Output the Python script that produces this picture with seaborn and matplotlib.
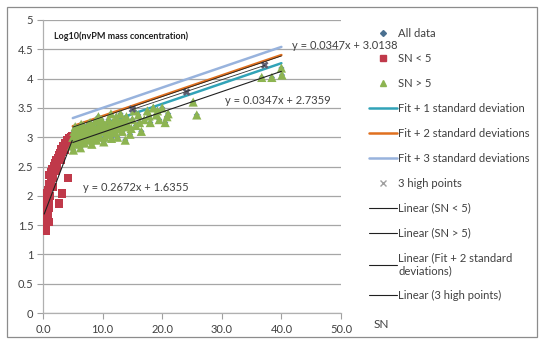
import numpy as np
import pandas as pd
import matplotlib
matplotlib.use("Agg")
import matplotlib.pyplot as plt
import seaborn as sns
from matplotlib.lines import Line2D
from matplotlib.patches import Rectangle

# ---------------- data ----------------
red_x = [0.2, 0.3, 0.3, 0.4, 0.4, 0.5, 0.5, 0.6, 0.6, 0.7, 0.8, 0.9, 1.0, 1.1, 1.2,
         1.4, 1.5, 1.7, 1.9, 2.0, 2.2, 2.4, 2.5, 2.7, 2.9, 3.0, 3.2, 3.4, 3.6, 3.8,
         4.0, 4.2, 4.4, 4.6, 4.8, 4.9, 2.7, 3.2, 4.2, 1.6, 0.9, 0.4, 0.6, 0.8, 1.0,
         1.3, 2.1, 3.0, 3.7, 4.5]
red_y = [1.45, 1.40, 1.60, 1.75, 1.90, 1.50, 2.05, 1.65, 1.85, 2.00, 2.10, 1.80, 2.20,
         2.35, 2.00, 2.40, 2.45, 2.30, 2.50, 2.55, 2.60, 2.50, 2.65, 2.70, 2.72, 2.80,
         2.75, 2.85, 2.85, 2.90, 2.95, 2.90, 2.98, 2.95, 3.00, 3.02, 1.87, 2.04, 2.30,
         2.15, 1.55, 1.40, 1.95, 1.70, 1.92, 2.25, 2.42, 2.62, 2.78, 2.88]

green_x = [4.8, 5.0, 5.1, 5.2, 5.3, 5.5, 5.6, 5.8, 6.0, 6.1, 6.3, 6.5, 6.6, 6.8, 7.0,
           7.1, 7.3, 7.5, 7.7, 7.9, 8.0, 8.2, 8.4, 8.6, 8.8, 9.0, 9.2, 9.4, 9.6, 9.8,
           10.0, 10.2, 10.5, 10.7, 11.0, 11.2, 11.5, 11.7, 12.0, 12.3, 12.5, 12.8, 13.0,
           13.3, 13.5, 13.8, 14.0, 14.3, 14.6, 15.0, 15.3, 15.6, 16.0, 16.5, 17.0, 17.5,
           18.0, 18.5, 19.0, 19.5, 20.0, 20.5, 21.0, 25.2, 25.8, 36.7, 38.4, 40.1, 40.0,
           5.4, 5.9, 6.4, 6.9, 7.4, 7.8, 8.3, 8.7, 9.1, 9.5, 10.1, 10.6, 11.1, 11.6,
           12.1, 12.6, 13.1, 13.6, 14.1, 14.8, 5.7, 6.7, 7.6, 8.5, 9.3, 10.4, 11.4,
           12.4, 16.2, 17.8, 19.2, 20.8]
green_y = [2.85, 3.00, 2.78, 3.10, 2.92, 3.05, 2.88, 3.15, 2.95, 3.08, 2.82, 3.12, 3.00,
           3.20, 2.90, 3.05, 3.15, 2.95, 3.10, 3.25, 3.00, 2.88, 3.18, 3.05, 3.28, 2.95,
           3.12, 3.22, 3.00, 3.30, 3.10, 2.92, 3.20, 3.05, 3.30, 3.15, 2.98, 3.25, 3.10,
           3.35, 3.00, 3.20, 3.40, 3.10, 3.28, 2.95, 3.35, 3.18, 3.05, 3.30, 3.45, 3.20,
           3.38, 3.10, 3.30, 3.45, 3.25, 3.50, 3.38, 3.30, 3.50, 3.25, 3.40, 3.60, 3.38,
           4.02, 4.02, 4.06, 4.18,
           3.18, 3.02, 3.22, 3.10, 3.02, 2.98, 3.12, 3.15, 3.05, 3.18, 3.24, 3.12, 3.20,
           3.08, 3.22, 3.14, 3.26, 3.18, 3.24, 3.15, 2.95, 2.92, 3.22, 2.96, 3.35, 3.00,
           3.40, 3.28, 3.25, 3.36, 3.45, 3.35]

high_x = [15.0, 24.1, 37.2]
high_y = [3.48, 3.77, 4.23]

# trendline equations (from the chart labels)
slope_hi, icpt_hi = 0.0347, 2.7359      # Linear (SN > 5)
icpt_fit2 = 3.0138                      # Fit + 2 standard deviations
slope_lo, icpt_lo = 0.2672, 1.6355      # Linear (SN < 5)
fit_range = [5.0, 40.0]
lo_range = [0.2, 4.9]

x_ticks = [0, 10, 20, 30, 40, 50]
x_ticklabels = ["0.0", "10.0", "20.0", "30.0", "40.0", "50.0"]
y_ticks = [0, 0.5, 1, 1.5, 2, 2.5, 3, 3.5, 4, 4.5, 5]
y_ticklabels = ["0", "0.5", "1", "1.5", "2", "2.5", "3", "3.5", "4", "4.5", "5"]

# ---------------- style ----------------
sns.set_style("white")
plt.rcParams["font.family"] = ["Lato", "DejaVu Sans"]
txt_col = "#404040"

W, H = 539, 341
fig = plt.figure(figsize=(W / 100, H / 100), dpi=100)
ax = fig.add_axes([43 / W, 1 - 313 / H, (341 - 43) / W, (313 - 20) / H])

std = (icpt_fit2 - icpt_hi) / 2.0
fx = np.array(fit_range)
lx = np.array(lo_range)
df_fit = pd.DataFrame({
    "x": np.concatenate([fx, fx, fx]),
    "y": np.concatenate([slope_hi * fx + icpt_hi + std,
                         slope_hi * fx + icpt_hi + 2 * std,
                         slope_hi * fx + icpt_hi + 3 * std]),
    "s": ["Fit + 1 standard deviation"] * 2 + ["Fit + 2 standard deviations"] * 2
         + ["Fit + 3 standard deviations"] * 2,
})
fit_cols = {"Fit + 1 standard deviation": "#31a3b8",
            "Fit + 2 standard deviations": "#e0701f",
            "Fit + 3 standard deviations": "#98b3dd"}

# All data (under everything)
all_df = pd.DataFrame({"x": red_x + green_x, "y": red_y + green_y})
sns.scatterplot(data=all_df, x="x", y="y", ax=ax, marker="D", s=10,
                color="#4f81bd", edgecolor="none", zorder=2, legend=False)

sns.lineplot(data=df_fit, x="x", y="y", hue="s", palette=fit_cols, ax=ax,
             linewidth=1.8, legend=False, zorder=3, sort=False, estimator=None)

sns.scatterplot(x=red_x, y=red_y, ax=ax, marker="s", s=36, color="#c0394a",
                edgecolor="none", zorder=4, legend=False)
sns.scatterplot(x=green_x, y=green_y, ax=ax, marker="^", s=44, color="#8db451",
                edgecolor="none", zorder=4, legend=False)
sns.scatterplot(x=high_x, y=high_y, ax=ax, marker="X", s=30, color="#5f5f72",
                edgecolor="none", zorder=5, legend=False)

# Linear trendlines (thin dark)
sns.lineplot(x=lx, y=slope_lo * lx + icpt_lo, ax=ax, color="#202020", linewidth=0.8, zorder=5)
sns.lineplot(x=fx, y=slope_hi * fx + icpt_hi, ax=ax, color="#202020", linewidth=0.8, zorder=5)
sns.lineplot(x=fx, y=slope_hi * fx + icpt_fit2 - 0.015, ax=ax, color="#202020", linewidth=0.6, zorder=5)
hx = np.array(high_x)
hp = np.polyfit(hx, np.array(high_y), 1)
sns.lineplot(x=hx, y=np.polyval(hp, hx), ax=ax, color="#303030", linewidth=0.6, zorder=5)

ax.set_xlim(0, 50)
ax.set_ylim(0, 5)
ax.set_xticks(x_ticks)
ax.set_xticklabels(x_ticklabels)
ax.set_yticks(y_ticks)
ax.set_yticklabels(y_ticklabels)
ax.set_xlabel("")
ax.set_ylabel("")
ax.yaxis.grid(True, color="#a6a6a6", linewidth=0.9)
ax.xaxis.grid(False)
for s in ["top", "right"]:
    ax.spines[s].set_visible(False)
for s in ["left", "bottom"]:
    ax.spines[s].set_color("#b0b0b0")
    ax.spines[s].set_linewidth(0.9)
ax.tick_params(axis="both", labelsize=8, colors="#a0a0a0", labelcolor=txt_col,
               length=4, width=0.8, direction="out", left=True, bottom=True)
ax.tick_params(axis="x", pad=4)
ax.tick_params(axis="y", pad=3)

ax.text(1.8, 4.72, "Log10(nvPM mass concentration)", fontsize=6.5, fontweight="bold",
        color="#202020", va="center")
ax.text(41.8, 4.56, "y = 0.0347x + 3.0138", fontsize=8, color=txt_col, va="center")
ax.text(30.5, 3.62, "y = 0.0347x + 2.7359", fontsize=8, color=txt_col, va="center")
ax.text(6.7, 2.14, "y = 0.2672x + 1.6355", fontsize=8, color=txt_col, va="center")
fig.text(374 / W, 1 - 324 / H, "SN", fontsize=8.5, color=txt_col, va="center")

handles = [
    Line2D([], [], ls="none", marker="D", ms=3, color="#4a7090"),
    Line2D([], [], ls="none", marker="s", ms=5, color="#c0394a"),
    Line2D([], [], ls="none", marker="^", ms=5, color="#8db451"),
    Line2D([], [], color="#31a3b8", lw=1.8),
    Line2D([], [], color="#e0701f", lw=1.8),
    Line2D([], [], color="#98b3dd", lw=1.8),
    Line2D([], [], ls="none", marker="x", ms=4, color="#a0a0a0"),
    Line2D([], [], color="#202020", lw=0.8),
    Line2D([], [], color="#202020", lw=0.8),
    Line2D([], [], color="#202020", lw=0.8),
    Line2D([], [], color="#202020", lw=0.8),
]
labels = ["All data", "SN < 5", "SN > 5", "Fit + 1 standard deviation",
          "Fit + 2 standard deviations", "Fit + 3 standard deviations", "3 high points",
          "Linear (SN < 5)", "Linear (SN > 5)", "Linear (Fit + 2 standard\ndeviations)",
          "Linear (3 high points)"]
leg = fig.legend(handles, labels, loc="upper left", bbox_to_anchor=(369 / W, 1 - 28 / H),
                 frameon=False, fontsize=8.1, labelspacing=1.24, handlelength=2.5,
                 handletextpad=0.1, borderaxespad=0, borderpad=0)
for t in leg.get_texts():
    t.set_color(txt_col)

fig.patches.append(Rectangle((7 / W, 4 / H), (537 - 7) / W, (334 - 4) / H,
                             transform=fig.transFigure, fill=False,
                             edgecolor="#8c8c8c", linewidth=0.9))

fig.savefig("out.png", dpi=100)
